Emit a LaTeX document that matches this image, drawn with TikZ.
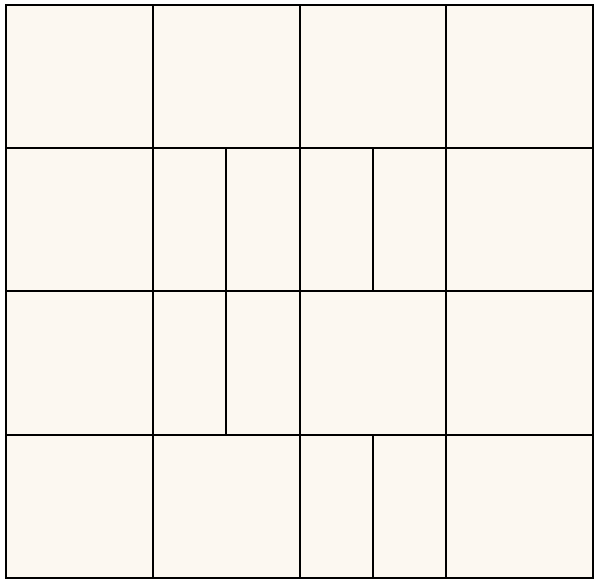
\documentclass[tikz,border=0pt]{standalone}
\definecolor{cream}{HTML}{FCF8F1}
\begin{document}
\begin{tikzpicture}[x=1pt,y=-1pt,gridline/.style={draw=black,line width=2pt}]
\useasboundingbox (0,0) rectangle (595,580);
\fill[white] (0,0) rectangle (595,580);
\fill[cream] (6,5) rectangle (593,577.5);
% horizontal lines
\foreach \y in {148,291.5,435} \draw[gridline] (6,\y) -- (593,\y);
% vertical main lines
\foreach \x in {153,299.5,446} \draw[gridline] (\x,5) -- (\x,577.5);
% sub-dividers
\draw[gridline] (226,148) -- (226,435);
\draw[gridline] (373,148) -- (373,291.5);
\draw[gridline] (373,435) -- (373,577.5);
% border
\draw[gridline] (6,5) rectangle (593,577.5);
\end{tikzpicture}
\end{document}
